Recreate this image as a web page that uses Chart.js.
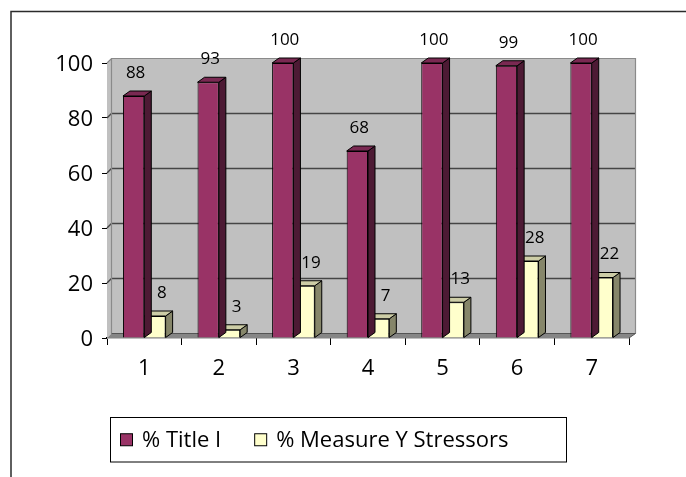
<!DOCTYPE html>
<html>
<head>
<meta charset="utf-8">
<script src="https://cdn.jsdelivr.net/npm/chart.js@4.4.1/dist/chart.umd.min.js"></script>
<style>
  html, body { margin: 0; padding: 0; background: #fff; }
  canvas { display: block; }
</style>
</head>
<body>
<canvas id="c" width="686" height="477"></canvas>
<script>
// Categories and the two series (percentages)
const categories = ['1', '2', '3', '4', '5', '6', '7'];
const titleIPct = [88, 93, 100, 68, 100, 99, 100];
const stressorsPct = [8, 3, 19, 7, 13, 28, 22];
const seriesLabels = ['% Title I', '% Measure Y Stressors'];
const yMin = 0, yMax = 100, yStep = 20;

const FONT = '"Open Sans", "Noto Sans", sans-serif';

// Face colours for the pseudo-3D columns
const palette = [
  { front: '#993366', side: '#4d1a34', top: '#7a2952' },
  { front: '#FFFFCC', side: '#86866a', top: '#cdcda6' }
];
const BAR_DEPTH = { dx: 7, dy: -5 };
const WALL_DEPTH = { dxLeft: 4.5, dxRight: 6.5, dy: -4.5 };
const LABEL_SHIFT = [2, 7];

const scene3d = {
  id: 'scene3d',
  beforeDraw(chart) {
    const ctx = chart.ctx;
    ctx.save();
    ctx.fillStyle = '#fff';
    ctx.fillRect(0, 0, chart.width, chart.height);
    // outer chart frame
    ctx.strokeStyle = '#2b2b2b';
    ctx.lineWidth = 1.5;
    ctx.beginPath();
    ctx.moveTo(11, chart.height + 2);
    ctx.lineTo(11, 11.5);
    ctx.lineTo(chart.width + 2, 11.5);
    ctx.stroke();
    ctx.restore();
  },
  beforeDatasetsDraw(chart) {
    const { ctx, chartArea: a, scales: { y } } = chart;
    const dl = WALL_DEPTH.dxLeft, dr = WALL_DEPTH.dxRight, dy = WALL_DEPTH.dy;
    const top = y.getPixelForValue(yMax), base = y.getPixelForValue(yMin);
    ctx.save();
    // back wall
    ctx.fillStyle = '#C0C0C0';
    ctx.fillRect(a.left + dl, top + dy, (a.right + dr) - (a.left + dl), base - top);
    // left side wall
    ctx.beginPath();
    ctx.moveTo(a.left, top);
    ctx.lineTo(a.left + dl, top + dy);
    ctx.lineTo(a.left + dl, base + dy);
    ctx.lineTo(a.left, base);
    ctx.closePath();
    ctx.fill();
    // floor
    ctx.fillStyle = '#868686';
    ctx.beginPath();
    ctx.moveTo(a.left, base);
    ctx.lineTo(a.left + dl, base + dy);
    ctx.lineTo(a.right + dr, base + dy);
    ctx.lineTo(a.right, base);
    ctx.closePath();
    ctx.fill();
    // gridlines on the back wall and the side wall
    ctx.strokeStyle = '#454545';
    ctx.lineWidth = 1.4;
    for (let v = yMin + yStep; v < yMax; v += yStep) {
      const py = y.getPixelForValue(v);
      ctx.beginPath();
      ctx.moveTo(a.left, py);
      ctx.lineTo(a.left + dl, py + dy);
      ctx.lineTo(a.right + dr, py + dy);
      ctx.stroke();
    }
    // wall outline
    ctx.strokeStyle = '#8a8a8a';
    ctx.lineWidth = 1.2;
    ctx.beginPath();
    ctx.moveTo(a.left, top);
    ctx.lineTo(a.left + dl, top + dy);
    ctx.lineTo(a.right + dr, top + dy);
    ctx.lineTo(a.right + dr, base + dy);
    ctx.moveTo(a.left + dl, top + dy);
    ctx.lineTo(a.left + dl, base + dy);
    ctx.stroke();
    // floor back edge and right edge
    ctx.strokeStyle = '#555';
    ctx.lineWidth = 1;
    ctx.beginPath();
    ctx.moveTo(a.left + dl, base + dy);
    ctx.lineTo(a.right + dr, base + dy);
    ctx.moveTo(a.right, base);
    ctx.lineTo(a.right + dr, base + dy);
    ctx.stroke();
    ctx.restore();
  },
  afterDatasetDraw(chart, args) {
    const ctx = chart.ctx;
    const colors = palette[args.index];
    const { dx, dy } = BAR_DEPTH;
    ctx.save();
    ctx.strokeStyle = '#000';
    ctx.lineWidth = 1;
    ctx.lineJoin = 'round';
    args.meta.data.forEach(bar => {
      const { x, y, width, base } = bar.getProps(['x', 'y', 'width', 'base'], true);
      const l = x - width / 2, r = x + width / 2;
      // side face
      ctx.fillStyle = colors.side;
      ctx.beginPath();
      ctx.moveTo(r, y);
      ctx.lineTo(r + dx, y + dy);
      ctx.lineTo(r + dx, base + dy);
      ctx.lineTo(r, base);
      ctx.closePath();
      ctx.fill();
      ctx.stroke();
      // top face
      ctx.fillStyle = colors.top;
      ctx.beginPath();
      ctx.moveTo(l, y);
      ctx.lineTo(l + dx, y + dy);
      ctx.lineTo(r + dx, y + dy);
      ctx.lineTo(r, y);
      ctx.closePath();
      ctx.fill();
      ctx.stroke();
    });
    ctx.restore();
  },
  afterDraw(chart) {
    const ctx = chart.ctx;
    ctx.save();
    // value labels
    ctx.fillStyle = '#000';
    ctx.font = '17px ' + FONT;
    ctx.textAlign = 'center';
    ctx.textBaseline = 'middle';
    chart.data.datasets.forEach((ds, i) => {
      chart.getDatasetMeta(i).data.forEach((bar, j) => {
        ctx.fillText(String(ds.data[j]), bar.x + LABEL_SHIFT[i], bar.y - 23);
      });
    });
    // legend
    const box = { left: 110.5, top: 417.5, right: 566.5, bottom: 462 };
    ctx.strokeStyle = '#000';
    ctx.lineWidth = 1;
    ctx.strokeRect(box.left, box.top, box.right - box.left, box.bottom - box.top);
    ctx.font = '22px ' + FONT;
    ctx.textAlign = 'left';
    const midY = (box.top + box.bottom) / 2;
    let x = 120;
    chart.data.datasets.forEach((ds, i) => {
      ctx.fillStyle = ds.backgroundColor;
      ctx.fillRect(x + 0.5, midY - 6, 12, 12);
      ctx.strokeRect(x + 0.5, midY - 6, 12, 12);
      ctx.fillStyle = '#000';
      ctx.fillText(ds.label, x + 22, midY + 1);
      x += 22 + ctx.measureText(ds.label).width + 33;
    });
    ctx.restore();
  }
};

new Chart(document.getElementById('c'), {
  type: 'bar',
  data: {
    labels: categories,
    datasets: [
      { label: seriesLabels[0], data: titleIPct, backgroundColor: palette[0].front,
        borderColor: '#000', borderWidth: 1 },
      { label: seriesLabels[1], data: stressorsPct, backgroundColor: palette[1].front,
        borderColor: '#000', borderWidth: 1 }
    ]
  },
  options: {
    responsive: false,
    animation: false,
    devicePixelRatio: 1,
    layout: { padding: { left: 0, top: 63, right: 57, bottom: 0 } },
    datasets: { bar: { categoryPercentage: 0.572, barPercentage: 1 } },
    plugins: { legend: { display: false }, tooltip: { enabled: false } },
    scales: {
      x: {
        grid: { offset: true, drawOnChartArea: false, tickLength: 7, color: '#000', lineWidth: 1 },
        border: { display: true, color: '#000', width: 1.3 },
        ticks: { color: '#000', font: { family: FONT, size: 22 }, padding: 11, maxRotation: 0 },
        afterFit(scale) { scale.height = 139; }
      },
      y: {
        min: yMin, max: yMax,
        grid: { drawOnChartArea: false, tickLength: 5, color: '#000', lineWidth: 1 },
        border: { display: true, color: '#9a9a9a', width: 1 },
        ticks: { stepSize: yStep, color: '#000', font: { family: FONT, size: 22 }, padding: 9, labelOffset: 2 },
        afterFit(scale) { scale.width = 107; }
      }
    }
  },
  plugins: [scene3d]
});
</script>
</body>
</html>
